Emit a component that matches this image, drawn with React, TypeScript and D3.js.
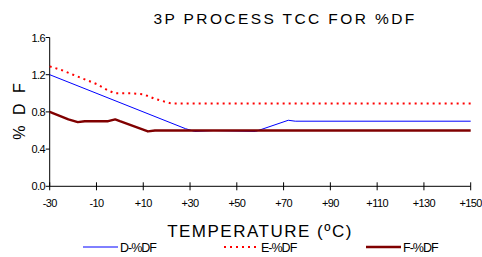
import * as d3 from "d3";

const xTicks = [-30, -10, 10, 30, 50, 70, 90, 110, 130, 150];
const yTicks = [0.0, 0.4, 0.8, 1.2, 1.6];

const dTemps = [-30, 28, 32, 40, 58, 72, 75, 150];
const dValues = [1.2, 0.62, 0.59, 0.6, 0.59, 0.71, 0.7, 0.7];

const eTemps = [-30, -25, -20, -15, -10, -5, -2, 5, 10, 15, 22, 150];
const eValues = [1.29, 1.25, 1.2, 1.15, 1.1, 1.03, 1.0, 1.0, 0.99, 0.94, 0.89, 0.89];

const fTemps = [-30, -26, -22, -18, -15, -10, -5, -2, 0, 12, 15, 150];
const fValues = [0.8, 0.76, 0.72, 0.69, 0.7, 0.7, 0.7, 0.72, 0.7, 0.59, 0.6, 0.6];

const W = 482;
const H = 257;
const font = "'Liberation Sans', Arial, sans-serif";

export default function App() {
  const x = d3.scaleLinear().domain([-30, 150]).range([49.7, 470.7]);
  const y = d3.scaleLinear().domain([0, 1.6]).range([186.3, 37.5]);

  const line = d3
    .line<[number, number]>()
    .x((d) => x(d[0]))
    .y((d) => y(d[1]));

  const zip = (t: number[], v: number[]) =>
    t.map((tt, i) => [tt, v[i]] as [number, number]);

  const series = [
    { name: "D-%DF", data: zip(dTemps, dValues), color: "#0000ff", width: 1, dash: "" },
    { name: "E-%DF", data: zip(eTemps, eValues), color: "#ff0000", width: 2, dash: "2,4" },
    { name: "F-%DF", data: zip(fTemps, fValues), color: "#800000", width: 2.4, dash: "" },
  ];

  const legendX = [83, 224, 366];

  return (
    <svg
      width={W}
      height={H}
      style={{ position: "absolute", left: 0, top: 0, background: "#fff" }}
      fontFamily={font}
    >
      <text
        x={285}
        y={24}
        textAnchor="middle"
        fontSize={15.5}
        letterSpacing={2.4}
        fill="#000"
      >
        3P PROCESS TCC FOR %DF
      </text>

      {/* y axis */}
      <line x1={x(-30)} x2={x(-30)} y1={y(1.6)} y2={y(0)} stroke="#000" />
      {yTicks.map((t) => (
        <g key={t}>
          <line x1={x(-30) - 4} x2={x(-30)} y1={y(t)} y2={y(t)} stroke="#000" />
          <text
            x={45}
            y={y(t) + 4}
            textAnchor="end"
            fontSize={11}
            letterSpacing={-0.6}
          >
            {t.toFixed(1)}
          </text>
        </g>
      ))}

      {/* x axis */}
      <line x1={x(-30)} x2={x(150)} y1={y(0)} y2={y(0)} stroke="#000" />
      {xTicks.map((t) => (
        <g key={t}>
          <line x1={x(t)} x2={x(t)} y1={y(0) - 4} y2={y(0) + 4} stroke="#000" />
          <text
            x={x(t)}
            y={207}
            textAnchor="middle"
            fontSize={11}
            letterSpacing={-0.6}
          >
            {t > 0 ? `+${t}` : `${t}`}
          </text>
        </g>
      ))}

      <text
        transform={`translate(25,${110}) rotate(-90)`}
        textAnchor="middle"
        fontSize={16}
        letterSpacing={3}
      >
        % D F
      </text>

      <text
        x={260}
        y={237}
        textAnchor="middle"
        fontSize={17}
        letterSpacing={1.5}
      >
        TEMPERATURE (ºC)
      </text>

      {series.map((s) => (
        <path
          key={s.name}
          d={line(s.data) || ""}
          fill="none"
          stroke={s.color}
          strokeWidth={s.width}
          strokeDasharray={s.dash || undefined}
          strokeLinejoin="round"
        />
      ))}

      {series.map((s, i) => (
        <g key={s.name}>
          <line
            x1={legendX[i]}
            x2={legendX[i] + 35}
            y1={247}
            y2={247}
            stroke={s.color}
            strokeWidth={s.width}
            strokeDasharray={s.dash || undefined}
          />
          <text x={legendX[i] + 37} y={252} fontSize={12.5} letterSpacing={-1}>
            {s.name}
          </text>
        </g>
      ))}
    </svg>
  );
}
